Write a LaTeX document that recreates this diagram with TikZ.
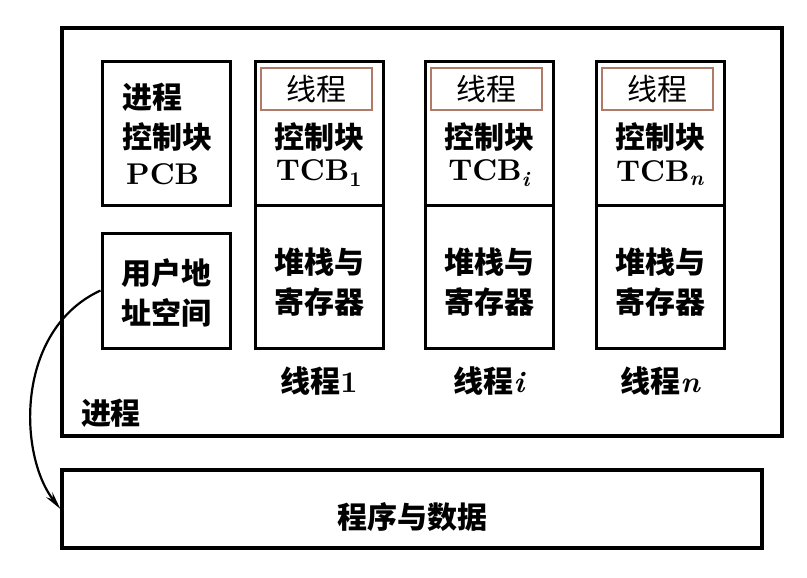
\documentclass[tikz,border=0pt]{standalone}
\usepackage{fontspec}
\newfontfamily\cjk{Noto Sans CJK SC}
\newfontfamily\lmb{lmroman10-bold}[Extension=.otf]
\newfontfamily\lmbi{lmroman10-bolditalic}[Extension=.otf]
\usetikzlibrary{arrows.meta}
\definecolor{brownline}{RGB}{176,122,104}
\tikzset{
  box/.style={draw, line width=3pt, inner sep=0pt},
  bigbox/.style={draw, line width=3.2pt, inner sep=0pt},
  namebox/.style={draw=brownline, line width=2pt, inner sep=0pt, minimum width=111pt, minimum height=42pt},
  txt/.style={inner sep=0pt, font=\fontsize{30}{36}\selectfont\cjk\bfseries},
  lat/.style={inner sep=0pt, font=\fontsize{30}{36}\selectfont\lmb},
}
\begin{document}
\begin{tikzpicture}[x=1pt,y=-1pt]
\useasboundingbox (0,0) rectangle (807,578);
% process box
\node[bigbox, minimum width=720pt, minimum height=408pt] (process) at (422,232) {};
% pcb and user space
\node[box, minimum width=128pt, minimum height=143pt] (pcb) at (166,133.5) {};
\node[box, minimum width=128pt, minimum height=115pt] (user) at (166,290.5) {};
\node[txt, anchor=west] (pcb1) at (122,97) {进程};
\node[txt, anchor=west] (pcb2) at (122,137) {控制块};
\node[lat, anchor=west] (pcb3) at (126,174) {PCB};
\node[txt, anchor=west] (us1) at (121,273) {用户地};
\node[txt, anchor=west] (us2) at (121,313) {址空间};
% threads
\foreach \n/\x/\sub/\lab in {t1/319/\textsubscript{\lmb 1}/{\lmb 1},ti/489/\textsubscript{\lmbi i}/{\lmbi i},tn/660/\textsubscript{\lmbi n}/{\lmbi n}}{
  \node[box, minimum width=128pt, minimum height=286pt] (\n) at (\x,205) {};
  \draw[line width=3pt] (\n.west) -- (\n.east);
  \node[namebox] (\n name) at ([xshift=-3pt]\n.center |- 0,89) {};
  \node[inner sep=0pt, font=\fontsize{30}{36}\selectfont\cjk] (\n nametext) at (\n name) {线程};
  \node[txt] (\n ctl) at (\x,137) {控制块};
  \node[lat] (\n tcb) at (\x,173) {TCB\sub};
  \node[txt] (\n st1) at (\x,262) {堆栈与};
  \node[txt] (\n st2) at (\x,302) {寄存器};
  \node[txt] (\n lab) at (\x,381) {线程\lab};
}
\node[txt] (proclab) at (111,413) {进程};
% program and data
\node[bigbox, minimum width=700pt, minimum height=78pt] (data) at (412,509) {};
\node[txt] (datatext) at (412,517) {程序与数据};
% arrow
\draw[line width=2.2pt, -{Stealth[length=18pt,width=8pt]}] (user.west) .. controls (15,330) and (18,455) .. (data.west);
\end{tikzpicture}
\end{document}
